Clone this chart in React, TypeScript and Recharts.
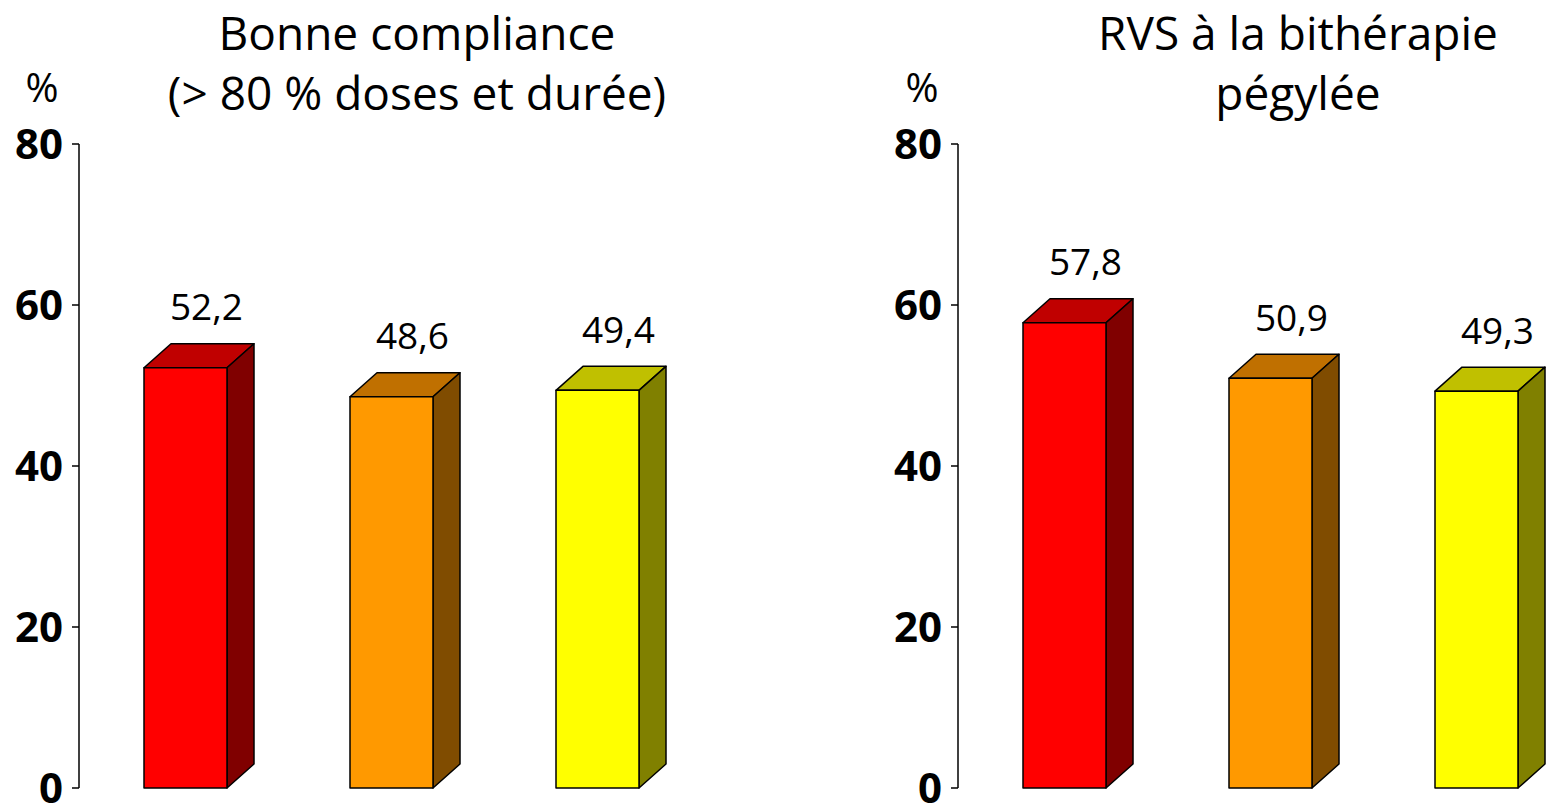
import { BarChart, Bar, XAxis, YAxis, LabelList } from "recharts";

const groups = ["1", "2", "3"];
const compliance = [52.2, 48.6, 49.4];
const rvs = [57.8, 50.9, 49.3];
const yTicks = [0, 20, 40, 60, 80];

const FRONT = ["#ff0000", "#ff9900", "#ffff00"];
const TOP = ["#c00000", "#c07000", "#c0c000"];
const SIDE = ["#800000", "#804c00", "#808000"];

const DX = 27;
const DY = 24;
const FONT = "'Open Sans', 'DejaVu Sans', sans-serif";

const fmt = (v: number) => v.toFixed(1).replace(".", ",");

function Box3D(props: any) {
  const { x, y, width, height, index } = props;
  const i = index ?? 0;
  const r = x + width;
  const b = y + height;
  return (
    <g stroke="#000" strokeWidth={1.5} strokeLinejoin="round">
      <polygon points={`${x},${y} ${x + DX},${y - DY} ${r + DX},${y - DY} ${r},${y}`} fill={TOP[i]} />
      <polygon points={`${r},${y} ${r + DX},${y - DY} ${r + DX},${b - DY} ${r},${b}`} fill={SIDE[i]} />
      <rect x={x} y={y} width={width} height={height} fill={FRONT[i]} />
    </g>
  );
}

function ValueLabel(props: any) {
  const { x, y, width, value } = props;
  return (
    <text
      x={x + width / 2 + 21}
      y={y - DY - 38}
      textAnchor="middle"
      dominantBaseline="central"
      fontFamily={FONT}
      fontSize={37}
      fill="#000"
    >
      {fmt(Number(value))}
    </text>
  );
}

function Panel({ values, right }: { values: number[]; right: number }) {
  const data = groups.map((g, i) => ({ g, v: values[i] }));
  return (
    <BarChart
      width={79 + 621 + right}
      height={804}
      data={data}
      margin={{ top: 144, right, bottom: 16, left: 0 }}
    >
      <XAxis dataKey="g" hide padding={{ left: 3, right: 0 }} />
      <YAxis
        width={79}
        domain={[0, 80]}
        ticks={yTicks}
        interval={0}
        tickSize={7}
        tickMargin={9}
        axisLine={{ stroke: "#000", strokeWidth: 1.5 }}
        tickLine={{ stroke: "#000", strokeWidth: 1.5 }}
        tick={{ fill: "#000", fontSize: 42, fontWeight: 700, fontFamily: FONT }}
      />
      <Bar dataKey="v" barSize={83} shape={<Box3D />} isAnimationActive={false}>
        <LabelList dataKey="v" content={<ValueLabel />} />
      </Bar>
    </BarChart>
  );
}

export default function App() {
  return (
    <div style={page}>
      <div style={{ position: "absolute", left: 0, top: 0 }}>
        <Panel values={compliance} right={75} />
      </div>
      <div style={{ position: "absolute", left: 879, top: 0 }}>
        <Panel values={rvs} right={3} />
      </div>

      <div style={{ ...line1, left: 417 }}>Bonne compliance</div>
      <div style={{ ...line2, left: 417 }}>(&gt; 80 % doses et durée)</div>
      <div style={{ ...line1, left: 1298 }}>RVS à la bithérapie</div>
      <div style={{ ...line2, left: 1298 }}>pégylée</div>
      <div style={{ ...pct, left: 42 }}>%</div>
      <div style={{ ...pct, left: 922 }}>%</div>
    </div>
  );
}

const page: React.CSSProperties = {
  position: "fixed",
  left: 0,
  top: 0,
  width: 1550,
  height: 804,
  overflow: "hidden",
  background: "#fff",
  fontFamily: FONT,
};

const titleBase: React.CSSProperties = {
  position: "absolute",
  transform: "translateX(-50%)",
  whiteSpace: "nowrap",
  textAlign: "center",
  fontSize: 46,
  color: "#000",
};

const line1: React.CSSProperties = { ...titleBase, top: 0, lineHeight: "64px" };
const line2: React.CSSProperties = { ...titleBase, top: 61, lineHeight: "62px" };

const pct: React.CSSProperties = {
  position: "absolute",
  top: 56,
  transform: "translateX(-50%)",
  fontSize: 40,
  lineHeight: "62px",
  color: "#000",
};
